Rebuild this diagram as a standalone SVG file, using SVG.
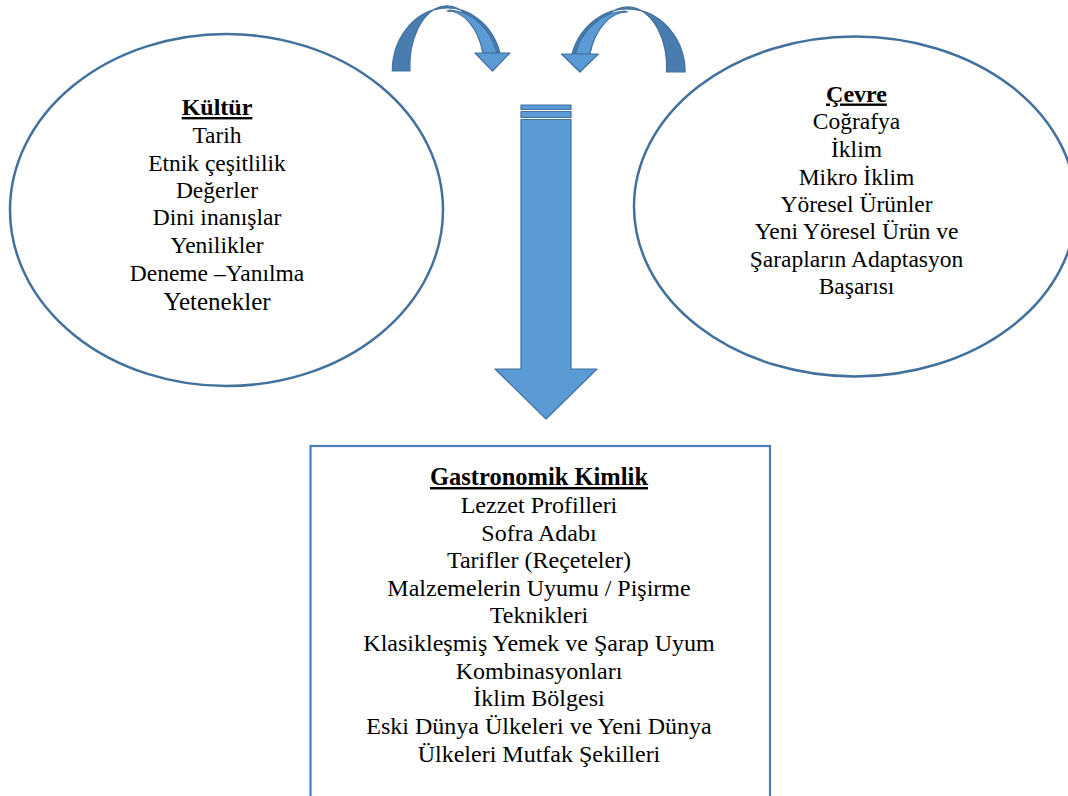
<svg xmlns="http://www.w3.org/2000/svg" width="1068" height="796" viewBox="0 0 1068 796">
<style>
.t{font-size:23.5px;fill:#000;text-anchor:middle}
.tb{font-size:24px;font-weight:bold;fill:#000;text-anchor:middle;text-decoration:underline}
.bx{font-size:24px}
.shape{fill:none;stroke:#41719c;stroke-width:2.5}
.dark{fill:#4a7cb0;stroke:#41719c;stroke-width:1.2;stroke-linejoin:round}
.light{fill:#5b9bd5;stroke:#41719c;stroke-width:1.2;stroke-linejoin:round}
</style>
<defs>
<g id="curved">
<path class="dark" d="M392.3,71 A55,63 0 0 1 500,53 L483,53 A37,60 0 0 0 410,71 Z"/>
<path class="light" d="M447,11 A37,60 0 0 1 483,53 L497,53 A52,61 0 0 0 450,10 Z"/>
<polygon class="light" points="475,53 510,53 492.5,71"/>
</g>
</defs>
<rect width="1068" height="796" fill="#fff"/>
<g id="connectors">
<use href="#curved"/>
<use href="#curved" transform="matrix(-1.05 0 0 1 1097 1)"/>
<g id="down-arrow">
<rect class="light" x="521" y="105" width="50" height="4.5"/>
<rect class="light" x="521" y="111.5" width="50" height="6"/>
<polygon class="light" points="521,119.5 571,119.5 571,369 597,369 546,419 495,369 521,369"/>
</g>
</g>
<g id="kultur" font-family="Liberation Serif, serif">
<ellipse class="shape" cx="226.5" cy="210" rx="216.5" ry="176"/>
<text class="tb" x="217" y="115">Kültür</text>
<text class="t" x="217" y="142.5">Tarih</text>
<text class="t" x="217" y="170.5">Etnik çeşitlilik</text>
<text class="t" x="217" y="198">Değerler</text>
<text class="t" x="217" y="225">Dini inanışlar</text>
<text class="t" x="217" y="252.5">Yenilikler</text>
<text class="t" x="217" y="280.5">Deneme –Yanılma</text>
<text class="t" x="217" y="310" style="font-size:25px">Yetenekler</text>
</g>
<g id="cevre" font-family="Liberation Serif, serif">
<ellipse class="shape" cx="855" cy="206.5" rx="221" ry="170"/>
<text class="tb" x="856.5" y="101.5">Çevre</text>
<text class="t" x="856.5" y="129.3">Coğrafya</text>
<text class="t" x="856.5" y="156.7">İklim</text>
<text class="t" x="856.5" y="184.5">Mikro İklim</text>
<text class="t" x="856.5" y="212.3">Yöresel Ürünler</text>
<text class="t" x="856.5" y="239.3">Yeni Yöresel Ürün ve</text>
<text class="t" x="856.5" y="266.7">Şarapların Adaptasyon</text>
<text class="t" x="856.5" y="294">Başarısı</text>
</g>
<g id="gastronomik-kimlik" font-family="Liberation Serif, serif">
<rect x="310.5" y="446" width="459.5" height="360" fill="none" stroke="#4a7ebb" stroke-width="2.2"/>
<text class="tb" x="539" y="485" style="font-size:24.5px">Gastronomik Kimlik</text>
<text class="t bx" x="539" y="512.7">Lezzet Profilleri</text>
<text class="t bx" x="539" y="540.7">Sofra Adabı</text>
<text class="t bx" x="539" y="568.3">Tarifler (Reçeteler)</text>
<text class="t bx" x="539" y="595.7">Malzemelerin Uyumu / Pişirme</text>
<text class="t bx" x="539" y="623.3">Teknikleri</text>
<text class="t bx" x="539" y="650.7">Klasikleşmiş Yemek ve Şarap Uyum</text>
<text class="t bx" x="539" y="679">Kombinasyonları</text>
<text class="t bx" x="539" y="706">İklim Bölgesi</text>
<text class="t bx" x="539" y="734.3">Eski Dünya Ülkeleri ve Yeni Dünya</text>
<text class="t bx" x="539" y="761.7">Ülkeleri Mutfak Şekilleri</text>
</g>
</svg>
